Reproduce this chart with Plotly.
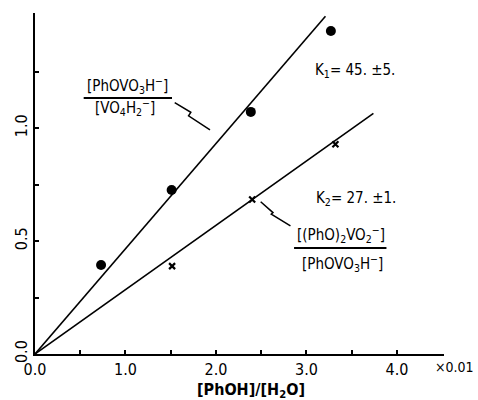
import plotly.graph_objects as go

# ---- data ----
circle_x = [0.73, 1.51, 2.385, 3.27]
circle_y = [0.394, 0.726, 1.072, 1.43]
cross_x = [1.515, 2.40, 3.32]
cross_y = [0.389, 0.684, 0.929]
line1_x = [0.0, 3.21]
line1_slope = 0.466
line2_x = [0.0, 3.74]
line2_slope = 0.285
x_tickvals = [0, 0.5, 1, 1.5, 2, 2.5, 3, 3.5, 4]
x_ticktext = ["0.0", "", "1.0", "", "2.0", "", "3.0", "", "4.0"]
y_tickvals = [0, 0.25, 0.5, 0.75, 1.0, 1.25]
y_ticktext = ["0.0", "", "0.5", "", "1.0", ""]

FONT = "DejaVu Sans Condensed, Liberation Sans Narrow, Roboto, sans-serif"

fig = go.Figure()
fig.add_trace(go.Scatter(x=line1_x, y=[v * line1_slope for v in line1_x], mode="lines",
                         line=dict(color="black", width=1.6), showlegend=False))
fig.add_trace(go.Scatter(x=line2_x, y=[v * line2_slope for v in line2_x], mode="lines",
                         line=dict(color="black", width=1.6), showlegend=False))
fig.add_trace(go.Scatter(x=circle_x, y=circle_y, mode="markers",
                         marker=dict(symbol="circle", size=10, color="black"), showlegend=False))
fig.add_trace(go.Scatter(x=cross_x, y=cross_y, mode="markers",
                         marker=dict(symbol="x-thin", size=6, line=dict(color="black", width=2.2)),
                         showlegend=False))

ann = []
def A(text, x, y, size=15, xanchor="center", xref="x", yref="y"):
    ann.append(dict(text=text, x=x, y=y, xref=xref, yref=yref, showarrow=False,
                    xanchor=xanchor, yanchor="middle", borderpad=0,
                    font=dict(family=FONT, size=size, color="black")))

A("[PhOVO<sub>3</sub>H<sup>−</sup>]", 1.02, 1.19)
A("[VO<sub>4</sub>H<sub>2</sub><sup>−</sup>]", 0.998, 1.09)
A("[(PhO)<sub>2</sub>VO<sub>2</sub><sup>−</sup>]", 3.379, 0.53)
A("[PhOVO<sub>3</sub>H<sup>−</sup>]", 3.401, 0.40)
A("K<sub>1</sub>= 45. ±5.", 3.08, 1.255, xanchor="left")
A("K<sub>2</sub>= 27. ±1.", 3.094, 0.69, xanchor="left")
A("×0.01", 1.075, -0.038, size=14, xanchor="right", xref="paper", yref="paper")
A("<b>[PhOH]/[H<sub>2</sub>O]</b>", 0.529, -0.106, size=16, xref="paper", yref="paper")

shapes = [
    dict(type="line", x0=0.538, x1=1.514, y0=1.134, y1=1.134, xref="x", yref="y",
         line=dict(color="black", width=2)),
    dict(type="line", x0=2.863, x1=3.884, y0=0.469, y1=0.469, xref="x", yref="y",
         line=dict(color="black", width=2)),
    dict(type="path", xref="x", yref="y",
         path="M 1.544 1.113 L 1.722 1.070 L 1.697 1.055 L 1.934 0.992",
         line=dict(color="black", width=1.5)),
    dict(type="path", xref="x", yref="y",
         path="M 2.494 0.674 L 2.630 0.626 L 2.611 0.619 L 2.823 0.567",
         line=dict(color="black", width=1.5)),
]

fig.update_layout(
    width=478, height=400,
    margin=dict(l=32, r=34, t=13, b=46),
    paper_bgcolor="white", plot_bgcolor="white",
    annotations=ann, shapes=shapes,
    font=dict(family=FONT, size=16, color="black"),
    xaxis=dict(range=[0, 4.52], showgrid=False, zeroline=False, showline=True,
               linecolor="black", linewidth=2, ticks="inside", ticklen=4, tickwidth=1.5,
               tickcolor="black", tickvals=x_tickvals, ticktext=x_ticktext,
               tickfont=dict(family=FONT, size=16)),
    yaxis=dict(range=[0, 1.51], showgrid=False, zeroline=False, showline=True,
               linecolor="black", linewidth=2, ticks="inside", ticklen=4, tickwidth=1.5,
               tickcolor="black", tickvals=y_tickvals, ticktext=y_ticktext, tickangle=-90,
               tickfont=dict(family=FONT, size=16)),
)

fig.write_html("out.html")
